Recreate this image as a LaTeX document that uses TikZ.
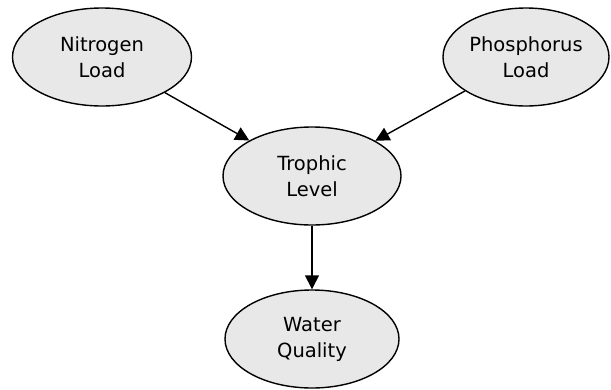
\documentclass[tikz,border=0pt]{standalone}
\usepackage{fontspec}
\setmainfont{DejaVu Sans}
\usepackage{tikz}
\usetikzlibrary{shapes.geometric,arrows.meta}

\begin{document}
\begin{tikzpicture}[x=1pt,y=-1pt,line width=1.4pt,>={Triangle[length=14pt,width=14pt]}]
		\tikzstyle{var}=[ellipse,draw=black,fill=black!9,align=center,inner sep=0pt,minimum height=98pt,font=\fontsize{19.5}{26}\selectfont];
		\useasboundingbox (0,0) rectangle (611,389);
		\node[var,minimum width=179pt] (nitrogen) at (102,57) {Nitrogen\\Load};
		\node[var,minimum width=166pt] (phosphorus) at (526,57) {Phosphorus\\Load};
		\node[var,minimum width=178pt] (trophic) at (312,176) {Trophic\\Level};
		\node[var,minimum width=174pt] (water) at (312,339) {Water\\Quality};
		\draw[->] (nitrogen) -- (trophic);
		\draw[->] (phosphorus) -- (trophic);
		\draw[->] (trophic) -- (water);
		\end{tikzpicture}
\end{document}
